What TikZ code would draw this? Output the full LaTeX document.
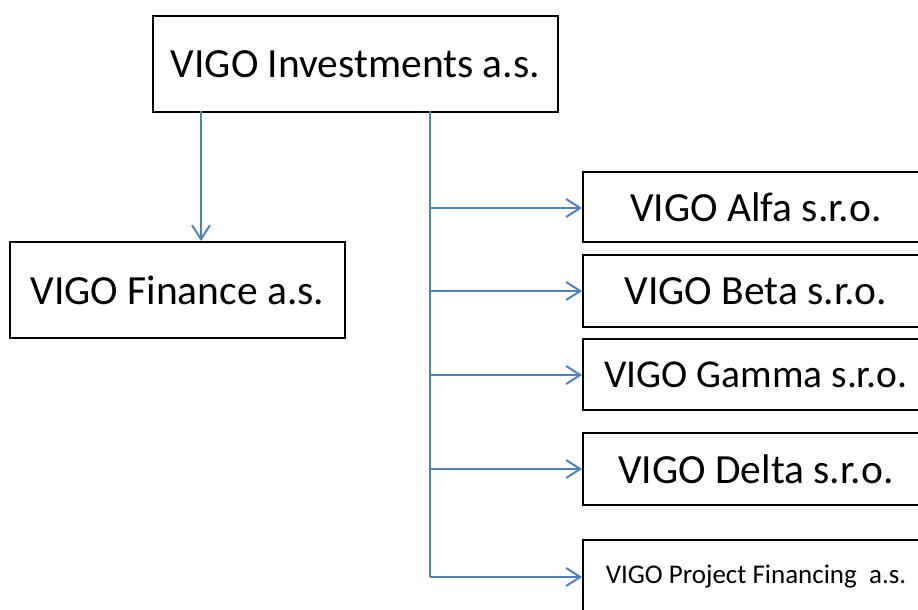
\documentclass[tikz,border=0pt]{standalone}
\usepackage{fontspec}
\setmainfont{Carlito}
\usetikzlibrary{arrows.meta}
\definecolor{linkblue}{HTML}{4F81BD}
\tikzset{
  orgbox/.style={draw=black, line width=2pt, fill=white, inner sep=0pt, anchor=center, font=\fontsize{41.5}{48}\selectfont},
  smallbox/.style={orgbox, font=\fontsize{27}{32}\selectfont},
  link/.style={draw=linkblue, line width=2.2pt, -{Straight Barb[length=14pt,width=18pt,line width=2pt]}},
  trunk/.style={draw=linkblue, line width=2.2pt}
}
\begin{document}
\begin{tikzpicture}[x=1pt,y=-1pt]
\useasboundingbox (0,0) rectangle (918,610);
\clip (0,0) rectangle (918,610);
\node[orgbox, minimum width=405pt, minimum height=95pt] (inv) at (355.5,64) {VIGO Investments a.s.};
\node[orgbox, minimum width=335pt, minimum height=96pt] (fin) at (177.5,290) {VIGO Finance a.s.};
\node[orgbox, minimum width=346pt, minimum height=70pt] (alfa) at (756,207) {VIGO Alfa s.r.o.};
\node[orgbox, minimum width=346pt, minimum height=72pt] (beta) at (756,291) {VIGO Beta s.r.o.};
\node[orgbox, minimum width=346pt, minimum height=71pt, font=\fontsize{39.5}{46}\selectfont] (gamma) at (756,374.5) {VIGO Gamma s.r.o.};
\node[orgbox, minimum width=346pt, minimum height=72pt] (delta) at (756,469) {VIGO Delta s.r.o.};
\node[smallbox, minimum width=346pt, minimum height=74pt] (proj) at (756,577) {VIGO Project Financing\ \ a.s.};
\coordinate (f0) at (201,111);
\coordinate (t0) at (430,111);
\coordinate (ta) at (430,208);
\coordinate (tb) at (430,291);
\coordinate (tg) at (430,375);
\coordinate (td) at (430,469);
\coordinate (tp) at (430,577);
\draw[link] (f0) -- (f0 |- fin.north);
\draw[trunk] (t0) -- (tp);
\draw[link] (ta) -- (ta -| alfa.west);
\draw[link] (tb) -- (tb -| beta.west);
\draw[link] (tg) -- (tg -| gamma.west);
\draw[link] (td) -- (td -| delta.west);
\draw[link] (tp) -- (tp -| proj.west);
\end{tikzpicture}
\end{document}
